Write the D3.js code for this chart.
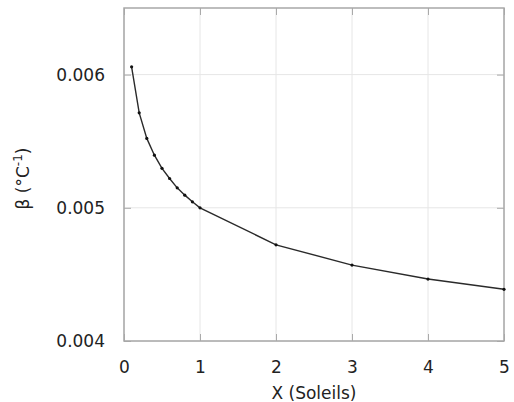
<!DOCTYPE html>
<html><head><meta charset="utf-8">
<script src="https://cdn.jsdelivr.net/npm/d3@7"></script>
<style>body{margin:0;background:#fff}svg{display:block}text{font-family:"DejaVu Sans",sans-serif}</style>
</head><body><svg id="c" width="514" height="402"></svg>
<script>
const xValues = [0.1,0.2,0.3,0.4,0.5,0.6,0.7,0.8,0.9,1,2,3,4,5];
const betaValues = [0.006058,0.005713,0.005521,0.005395,0.005296,0.005220,0.005150,0.005095,0.005045,0.005000,0.004722,0.004570,0.004465,0.004388];
const xTicks = [0,1,2,3,4,5];
const yTicks = [0.004,0.005,0.006];

const svg = d3.select("#c");
const m = {l:124, r:504, t:8, b:341};
const x = d3.scaleLinear().domain([0,5]).range([m.l,m.r]);
const y = d3.scaleLinear().domain([0.004,0.0065]).range([m.b,m.t]);

// grid
svg.append("g").selectAll("line").data(xTicks).join("line")
  .attr("x1",d=>x(d)).attr("x2",d=>x(d)).attr("y1",m.t).attr("y2",m.b)
  .attr("stroke","#e6e6e6").attr("stroke-width",1);
svg.append("g").selectAll("line").data(yTicks).join("line")
  .attr("x1",m.l).attr("x2",m.r).attr("y1",d=>y(d)).attr("y2",d=>y(d))
  .attr("stroke","#e6e6e6").attr("stroke-width",1);

// axes with inward ticks
const fs = "17px";
const ax = svg.append("g").attr("transform",`translate(0,${m.b})`)
  .call(d3.axisBottom(x).tickValues(xTicks).tickFormat(d3.format("d")).tickSize(-7).tickPadding(20));
const axT = svg.append("g").attr("transform",`translate(0,${m.t})`)
  .call(d3.axisTop(x).tickValues(xTicks).tickFormat("").tickSize(-7));
const ay = svg.append("g").attr("transform",`translate(${m.l},0)`)
  .call(d3.axisLeft(y).tickValues(yTicks).tickFormat(d3.format(".3f")).tickSize(-7).tickPadding(19));
const ayR = svg.append("g").attr("transform",`translate(${m.r},0)`)
  .call(d3.axisRight(y).tickValues(yTicks).tickFormat("").tickSize(-7));
[ax,axT,ay,ayR].forEach(g=>{
  g.select(".domain").remove();
  g.selectAll(".tick line").attr("stroke","#aaa");
  g.selectAll("text").attr("fill","#222").style("font-size",fs).style("font-family","DejaVu Sans");
});

// frame
svg.append("rect").attr("x",m.l).attr("y",m.t).attr("width",m.r-m.l).attr("height",m.b-m.t)
  .attr("fill","none").attr("stroke","#a8a8a8").attr("stroke-width",1.5);

// line
const pts = xValues.map((v,i)=>[v,betaValues[i]]);
svg.append("path").datum(pts)
  .attr("d",d3.line().x(d=>x(d[0])).y(d=>y(d[1])))
  .attr("fill","none").attr("stroke","#2a2a2a").attr("stroke-width",1.4);
svg.append("g").selectAll("circle").data(pts).join("circle")
  .attr("cx",d=>x(d[0])).attr("cy",d=>y(d[1])).attr("r",1.6).attr("fill","#111");

// labels
svg.append("text").attr("x",(m.l+m.r)/2).attr("y",399).attr("text-anchor","middle")
  .style("font-size",fs).attr("fill","#222").text("X (Soleils)");
const yl = svg.append("text").attr("transform",`translate(29,${(m.t+m.b)/2+4}) rotate(-90)`)
  .attr("text-anchor","middle").style("font-size",fs).attr("fill","#222");
yl.append("tspan").text("β (°C");
yl.append("tspan").attr("baseline-shift","super").style("font-size","12px").text("-1");
yl.append("tspan").text(")");
</script></body></html>
